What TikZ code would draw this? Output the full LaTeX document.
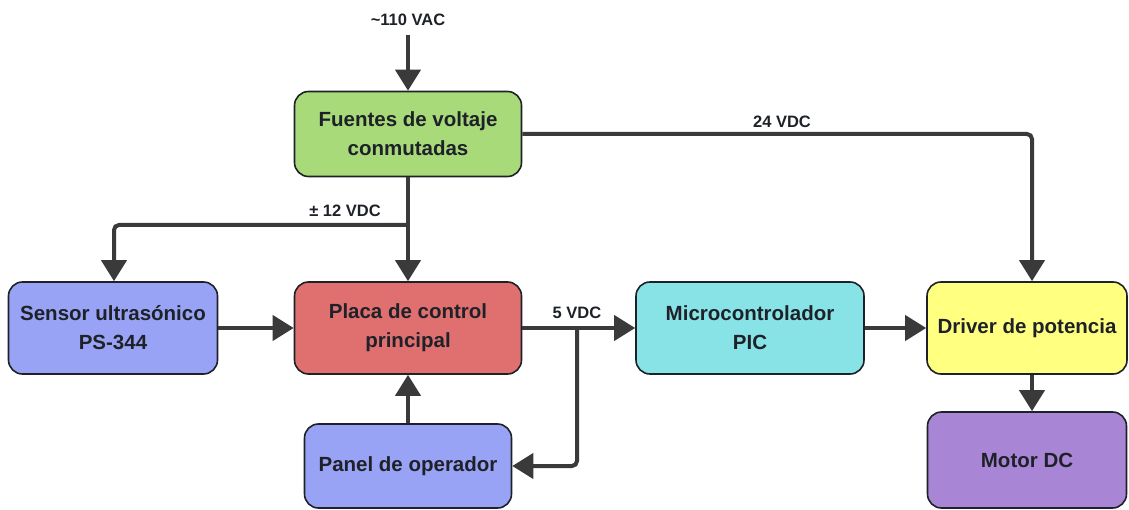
\documentclass[tikz,border=0pt]{standalone}
\usepackage{fontspec}
\setmainfont{Liberation Sans}
\usetikzlibrary{arrows.meta}
\definecolor{cgreen}{RGB}{168,218,122}
\definecolor{cred}{RGB}{224,112,112}
\definecolor{cblue}{RGB}{153,163,245}
\definecolor{ccyan}{RGB}{136,227,230}
\definecolor{cyellow}{RGB}{255,255,128}
\definecolor{cpurple}{RGB}{169,133,214}
\definecolor{cline}{RGB}{58,58,58}
\definecolor{ctext}{RGB}{30,34,40}
\tikzset{
  blk/.style={draw=ctext, line width=1.6pt, rounded corners=14pt, align=center,
    text=ctext, font=\fontsize{20.5}{29}\selectfont\bfseries, inner sep=0pt},
  conn/.style={draw=cline, line width=4pt, rounded corners=5pt,
    -{Triangle[length=21pt,width=25pt]}},
  lbl/.style={font=\fontsize{16.5}{19}\selectfont\bfseries, text=ctext, inner sep=0pt}
}
\begin{document}
\begin{tikzpicture}[x=1pt,y=-1pt]
\useasboundingbox (0,0) rectangle (1129,510);
\node[blk, fill=cgreen, minimum width=227pt, minimum height=85pt] (fuentes) at (408,134) {Fuentes de voltaje\\conmutadas};
\node[blk, fill=cblue, minimum width=209pt, minimum height=92pt] (sensor) at (113,328) {Sensor ultrasónico\\PS-344};
\node[blk, fill=cred, minimum width=227pt, minimum height=92pt] (placa) at (408,328) {Placa de control\\principal};
\node[blk, fill=ccyan, minimum width=228pt, minimum height=92pt] (micro) at (750,328) {Microcontrolador\\PIC};
\node[blk, fill=cyellow, minimum width=200pt, minimum height=92pt] (driver) at (1027,328) {Driver de potencia};
\node[blk, fill=cblue, minimum width=207pt, minimum height=84pt] (panel) at (408,466) {Panel de operador};
\node[blk, fill=cpurple, minimum width=199pt, minimum height=96pt] (motor) at (1027,460) {Motor DC};

\node[lbl] (vac) at (408,20) {\textasciitilde110 VAC};
\node[lbl] (l24) at (782,122) {24 VDC};
\node[lbl] (l12) at (345,211) {± 12 VDC};
\node[lbl] (l5) at (577,313) {5 VDC};

\coordinate (top) at (408,35);
\coordinate (b12) at (408,225);
\coordinate (c24) at (1032,134);
\coordinate (j5) at (577,328);

\draw[conn] (top) -- (fuentes.north);
\draw[conn] (fuentes.east) -- (c24) -- (c24 |- driver.north);
\draw[conn] (fuentes.south) -- (placa.north);
\draw[conn] (b12) -- (114,225) -- (114,0 |- sensor.north);
\draw[conn] (sensor.east) -- (placa.west);
\draw[conn] (panel.north) -- (placa.south);
\draw[conn] (placa.east) -- (micro.west);
\draw[conn] (j5) -- (j5 |- panel.east) -- (panel.east);
\draw[conn] (micro.east) -- (driver.west);
\draw[conn] (c24 |- driver.south) -- (c24 |- motor.north);
\end{tikzpicture}
\end{document}
